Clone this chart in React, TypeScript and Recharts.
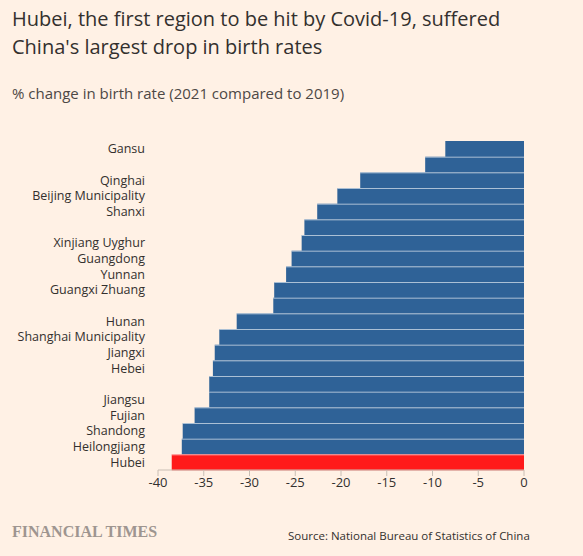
import React from "react";
import { BarChart, Bar, XAxis, YAxis, Cell } from "recharts";

const regions = [
  "Gansu", "", "Qinghai", "Beijing Municipality", "Shanxi", "",
  "Xinjiang Uyghur", "Guangdong", "Yunnan", "Guangxi Zhuang", "",
  "Hunan", "Shanghai Municipality", "Jiangxi", "Hebei", "",
  "Jiangsu", "Fujian", "Shandong", "Heilongjiang", "Hubei",
];
const changes = [
  -8.6, -10.8, -17.9, -20.4, -22.6, -24.0,
  -24.3, -25.4, -26.0, -27.3, -27.4,
  -31.4, -33.3, -33.8, -34.0, -34.4,
  -34.4, -36.0, -37.3, -37.4, -38.5,
];
const highlight = "Hubei";
const xTicks = [-40, -35, -30, -25, -20, -15, -10, -5, 0];

const data = regions.map((region, i) => ({ key: i, region, change: changes[i] }));

const BG = "#FFF1E5";
const TEXT = "#33302E";
const FONT = "'Open Sans', sans-serif";

const BarShape = (props: any) => {
  const { x, y, width, height, fill, index } = props;
  const left = Math.min(x, x + width);
  const w = Math.abs(width);
  return (
    <g>
      <rect x={left} y={y} width={w} height={height} fill={fill} />
      {index > 0 && (
        <rect x={left} y={y} width={w} height={1} fill="#FFFFFF" fillOpacity={0.6} />
      )}
    </g>
  );
};

export default function App() {
  return (
    <div style={{ position: "absolute", left: 0, top: 0, width: 583, height: 556, background: BG, fontFamily: FONT, overflow: "hidden" }}>
      <div style={{ position: "absolute", left: 12, top: 5, fontSize: 20, lineHeight: "28px", color: TEXT }}>
        Hubei, the first region to be hit by Covid-19, suffered<br />China's largest drop in birth rates
      </div>
      <div style={{ position: "absolute", left: 12, top: 83, fontSize: 15, color: "#4D4845" }}>
        % change in birth rate (2021 compared to 2019)
      </div>
      <div style={{ position: "absolute", left: 0, top: 0 }}>
        <BarChart
          width={583}
          height={556}
          data={data}
          layout="vertical"
          margin={{ top: 141, right: 59, bottom: 56, left: 8 }}
          barCategoryGap={0}
        >
          <XAxis
            type="number"
            domain={[-40, 0]}
            ticks={xTicks}
            axisLine={{ stroke: "#C9BEB4" }}
            tickLine={{ stroke: "#C9BEB4" }}
            tickSize={6}
            tick={{ fill: TEXT, fontSize: 13, fontFamily: FONT }}
            height={30}
            interval={0}
          />
          <YAxis
            type="category"
            dataKey="key"
            width={150}
            axisLine={false}
            tickLine={false}
            tickSize={0}
            tickMargin={13}
            interval={0}
            tickFormatter={(v: number) => regions[v]}
            tick={{ fill: TEXT, fontSize: 12.5, fontFamily: FONT }}
          />
          <Bar dataKey="change" isAnimationActive={false} shape={BarShape}>
            {data.map((d) => (
              <Cell key={d.key} fill={d.region === highlight ? "#FF1A1A" : "#2F6297"} />
            ))}
          </Bar>
        </BarChart>
      </div>
      <div style={{ position: "absolute", left: 12, top: 523, fontSize: 16, fontWeight: "bold", fontFamily: "'Liberation Serif', serif", color: "#9E9590" }}>
        FINANCIAL TIMES
      </div>
      <div style={{ position: "absolute", left: 288, top: 528, fontSize: 11.5, color: TEXT }}>
        Source: National Bureau of Statistics of China
      </div>
    </div>
  );
}
